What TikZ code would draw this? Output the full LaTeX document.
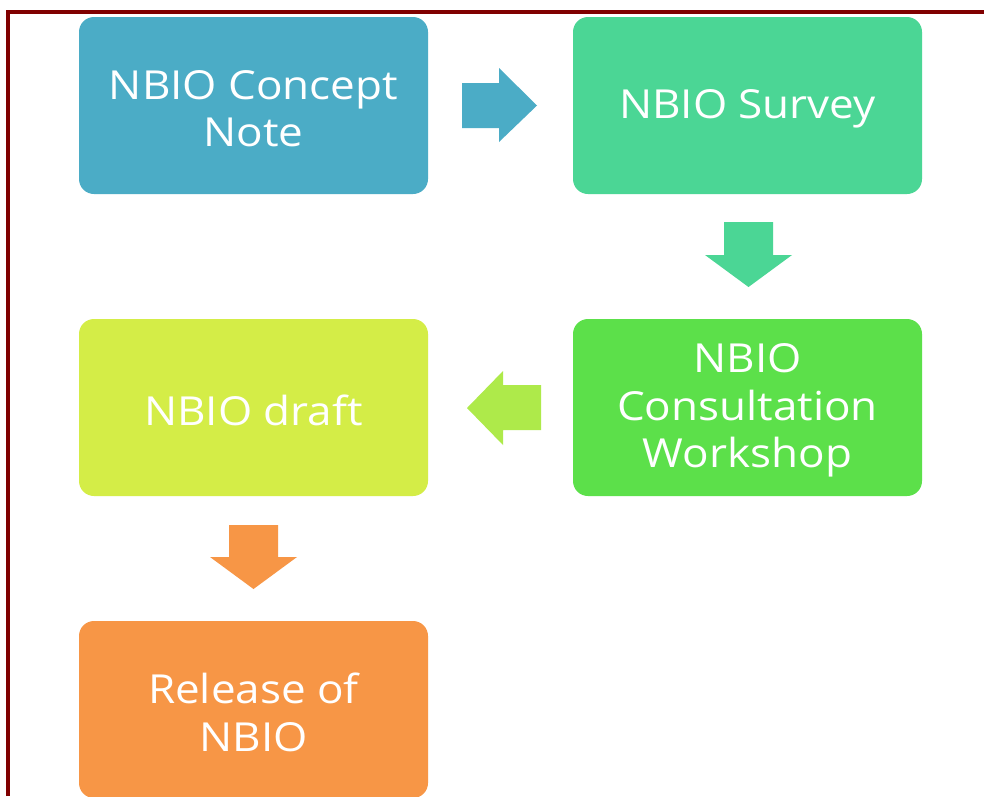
\documentclass[tikz,border=0pt]{standalone}
\usepackage{fontspec}
\setmainfont{Open Sans}[FakeStretch=1.1]
\definecolor{bBlue}{HTML}{4BACC6}
\definecolor{bTeal}{HTML}{4BD695}
\definecolor{bGreen}{HTML}{5CE04A}
\definecolor{bLime}{HTML}{D4ED47}
\definecolor{bOrange}{HTML}{F79646}
\definecolor{aLime}{HTML}{AEEA4A}
\definecolor{frame}{HTML}{800000}
\begin{document}
\begin{tikzpicture}[x=1pt,y=-1pt,
  stepbox/.style={rounded corners=15pt, minimum width=349pt, minimum height=177pt, inner sep=0pt},
  steptext/.style={text=white, align=center, inner sep=0pt, yshift=-3pt, font=\fontsize{40}{47.5}\selectfont}]
\useasboundingbox (0,0) rectangle (984,796);
\fill[white] (0,0) rectangle (984,796);
\begin{scope}
\clip (0,0) rectangle (984,796);
\node[stepbox, fill=bBlue] (concept) at (253.5,105.5) {};
\node[stepbox, fill=bTeal] (survey) at (747.5,105.5) {};
\node[stepbox, fill=bGreen] (workshop) at (747.5,407.5) {};
\node[stepbox, fill=bLime] (draft) at (253.5,407.5) {};
\node[stepbox, fill=bOrange] (release) at (253.5,709.5) {};
\end{scope}
\node[steptext] (conceptT) at (concept.center) {NBIO Concept\\Note};
\node[steptext] (surveyT) at (survey.center) {NBIO Survey};
\node[steptext] (workshopT) at (workshop.center) {NBIO\\Consultation\\Workshop};
\node[steptext] (draftT) at (draft.center) {NBIO draft};
\node[steptext] (releaseT) at (release.center) {Release of\\NBIO};
% arrows
\fill[bBlue] (462,83) -- (499,83) -- (499,68) -- (537,105.5) -- (499,142) -- (499,128) -- (462,128) -- cycle;
\fill[bTeal] (724,222) -- (773,222) -- (773,255) -- (792,255) -- (748.5,287) -- (705,255) -- (724,255) -- cycle;
\fill[aLime] (541,385) -- (503,385) -- (503,371) -- (467,408) -- (503,445) -- (503,430) -- (541,430) -- cycle;
\fill[bOrange] (229,525) -- (278,525) -- (278,557) -- (297,557) -- (253.5,589) -- (210,557) -- (229,557) -- cycle;
% frame
\draw[frame, line width=4pt] (8,796) -- (8,12) -- (984,12);
\end{tikzpicture}
\end{document}
